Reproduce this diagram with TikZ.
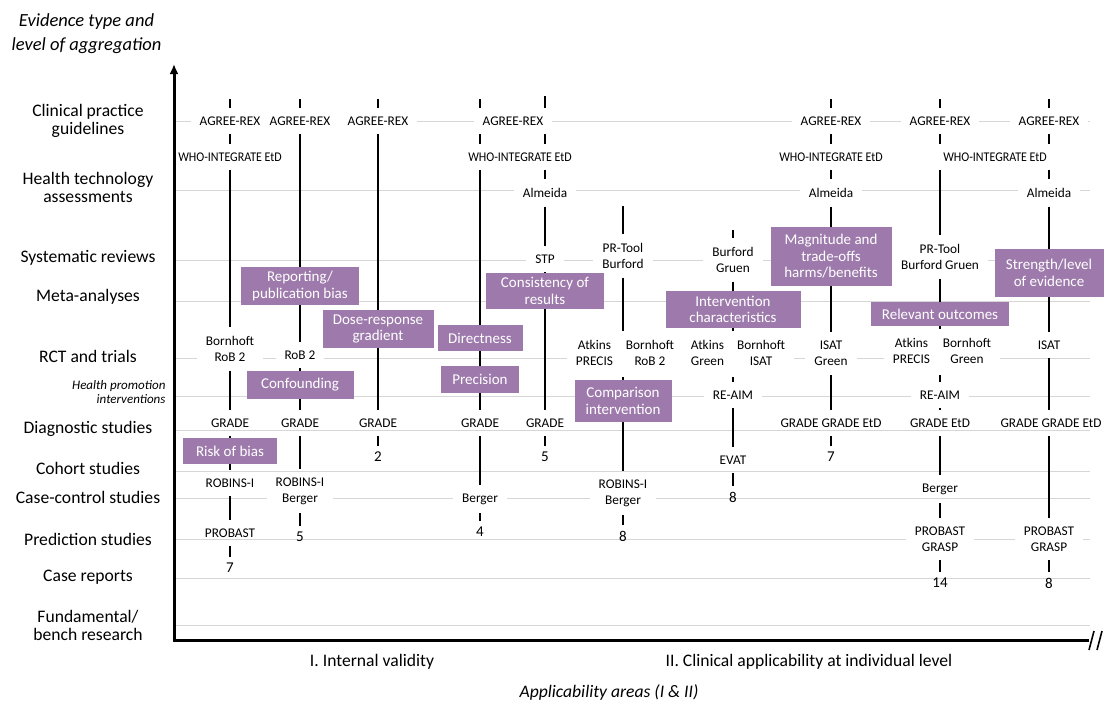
\documentclass[tikz,border=0pt]{standalone}
\usepackage{fontspec}
\setmainfont{Carlito}
\usetikzlibrary{arrows.meta}
\definecolor{critpurple}{RGB}{157,122,171}
\definecolor{gridgray}{RGB}{214,214,214}

\begin{document}
\begin{tikzpicture}[x=1pt, y=-1pt,
  tool/.style={fill=white, font=\fontsize{13.3}{16}\selectfont, align=center, inner xsep=9pt, inner ysep=2pt, outer ysep=7pt},
  crit/.style={fill=critpurple, text=white, font=\fontsize{15}{16.5}\selectfont, align=center, inner sep=3pt},
  count/.style={font=\fontsize{15}{15}\selectfont, inner sep=0pt, outer ysep=6pt},
  rowlab/.style={font=\fontsize{17.6}{18}\selectfont, align=center},
  link/.style={line width=2.2pt},
  gridln/.style={gridgray, line width=1pt},
  axis/.style={line width=3pt}]
  \useasboundingbox (0,0) rectangle (1106,704);

  % levels of evidence
  \foreach \y in {121,190,260,301,358,396,430,471,498,539,578,625}
    \draw[gridln] (176,\y) -- (1090,\y);
  \foreach \y/\lab [count=\i] in {121/{Clinical practice\\guidelines}, 187/{Health technology\\assessments},
      258/{Systematic reviews}, 297/{Meta-analyses}, 356/{RCT and trials}, 429/{Diagnostic studies},
      468/{Cohort studies}, 497/{Case-control studies}, 539/{Prediction studies}, 577/{Case reports},
      625/{Fundamental/\\bench research}}
    \node[rowlab] (row\i) at (88,\y) {\lab};
  \node[font=\itshape\fontsize{13}{13.5}\selectfont, align=right, anchor=east] (rowhp) at (169,392) {Health promotion\\interventions};
  \node[font=\itshape\fontsize{18.5}{24}\selectfont, align=center] (ytitle) at (86.5,34) {Evidence type and\\level of aggregation};
  \node[rowlab] (areaI) at (372,662) {I. Internal validity};
  \node[rowlab] (areaII) at (809,662) {II. Clinical applicability at individual level};
  \node[rowlab, font=\itshape\fontsize{17.6}{18}\selectfont] (xtitle) at (609,692) {Applicability areas (I \& II)};

  % column 1
  \coordinate (c1top) at (230,99);
  \node[tool] (a1) at (230,121) {AGREE-REX};
  \node[tool] (w1) at (230,157) {\scalebox{0.9}[1]{WHO-INTEGRATE EtD}};
  \node[tool] (b1) at (230,349) {Bornhoft\\RoB 2};
  \node[tool] (g1) at (230,423) {GRADE};
  \node[crit, minimum width=94pt, minimum height=26pt] (riskbias) at (230,451) {Risk of bias};
  \node[tool] (r1) at (230,483) {ROBINS-I};
  \node[tool] (p1) at (230,533) {PROBAST};
  \node[count] (n1) at (230,568) {7};
  \draw[link] (c1top) -- (a1) -- (w1) -- (b1) -- (g1) -- (riskbias) -- (r1) -- (p1) -- (n1);

  % column 2
  \coordinate (c2top) at (300,99);
  \node[tool] (a2) at (300,121) {AGREE-REX};
  \node[crit, minimum width=118pt, minimum height=38pt] (reporting) at (300,286) {Reporting/\\publication bias};
  \node[tool] (rob2) at (300,355) {RoB 2};
  \node[crit, minimum width=107pt, minimum height=28pt] (confounding) at (300,385) {Confounding};
  \node[tool] (g2) at (300,423) {GRADE};
  \node[tool] (r2) at (300,491) {ROBINS-I\\Berger};
  \node[count] (n2) at (300,537) {5};
  \draw[link] (c2top) -- (a2) -- (reporting) -- (rob2) -- (confounding) -- (g2) -- (r2) -- (n2);

  % column 3
  \coordinate (c3top) at (378,99);
  \node[tool] (a3) at (378,121) {AGREE-REX};
  \node[crit, minimum width=111pt, minimum height=38pt] (doseresp) at (378,329) {Dose-response\\gradient};
  \node[tool] (g3) at (378,423) {GRADE};
  \node[count] (n3) at (378,457) {2};
  \draw[link] (c3top) -- (a3) -- (doseresp) -- (g3) -- (n3);

  % columns 4 and 5 share the top labels
  \node[tool] (agree45) at (513,121) {AGREE-REX};
  \node[tool] (who45) at (520,157) {\scalebox{0.9}[1]{WHO-INTEGRATE EtD}};

  % column 4
  \coordinate (c4top) at (480,99);
  \node[crit, minimum width=85pt, minimum height=26pt] (directness) at (480,338) {Directness};
  \node[crit, minimum width=78pt, minimum height=27pt] (precision) at (480,379.5) {Precision};
  \node[tool] (g4) at (480,423) {GRADE};
  \node[tool] (be4) at (480,499) {Berger};
  \node[count] (n4) at (480,532) {4};
  \draw[link] (c4top) -- (agree45.north -| c4top);
  \draw[link] (agree45.south -| c4top) -- (who45.north -| c4top);
  \draw[link] (who45.south -| c4top) -- (directness) -- (precision) -- (g4) -- (be4) -- (n4);

  % column 5
  \coordinate (c5top) at (545,96);
  \node[tool] (al5) at (545,193) {Almeida};
  \node[tool] (stp) at (545,259) {STP};
  \node[crit, minimum width=118pt, minimum height=36pt] (consistency) at (545,291) {Consistency of\\results};
  \node[tool] (g5) at (545,423) {GRADE};
  \node[count] (n5) at (545,457) {5};
  \draw[link] (c5top) -- (agree45.north -| c5top);
  \draw[link] (agree45.south -| c5top) -- (who45.north -| c5top);
  \draw[link] (who45.south -| c5top) -- (al5) -- (stp) -- (consistency) -- (g5) -- (n5);

  % column 6
  \coordinate (c6top) at (623,206);
  \node[tool] (pr6) at (623,256) {PR-Tool\\Burford};
  \node[tool, inner ysep=0pt] (atk6) at (625,354) {\begin{tabular}{@{}c@{\hspace{13pt}}c@{}}Atkins & Bornhoft\\PRECIS & RoB 2\end{tabular}};
  \node[crit, minimum width=97pt, minimum height=42pt] (comparison) at (623,401) {Comparison\\intervention};
  \node[tool] (rb6) at (623,493) {ROBINS-I\\Berger};
  \node[count] (n6) at (623,536) {8};
  \draw[link] (c6top) -- (pr6) -- (pr6 |- atk6.north);
  \draw[link] (atk6.south -| comparison) -- (comparison) -- (rb6) -- (n6);

  % column 7
  \coordinate (c7top) at (733,230);
  \node[tool] (bg7) at (733,260) {Burford\\Gruen};
  \node[crit, minimum width=135pt, minimum height=37pt] (intervention) at (733,309.5) {Intervention\\characteristics};
  \node[tool, inner ysep=0pt] (atk7) at (738,354) {\begin{tabular}{@{}c@{\hspace{13pt}}c@{}}Atkins & Bornhoft\\Green & ISAT\end{tabular}};
  \node[tool] (reaim7) at (733,395) {RE-AIM};
  \node[tool] (evat) at (733,460) {EVAT};
  \node[count] (n7) at (733,497) {8};
  \draw[link] (c7top) -- (bg7) -- (intervention) -- (intervention |- atk7.north);
  \draw[link] (atk7.south -| reaim7) -- (reaim7) -- (evat) -- (n7);

  % column 8
  \coordinate (c8top) at (831,99);
  \node[tool] (a8) at (831,121) {AGREE-REX};
  \node[tool] (w8) at (831,157) {\scalebox{0.9}[1]{WHO-INTEGRATE EtD}};
  \node[tool] (al8) at (831,193) {Almeida};
  \node[crit, minimum width=121pt, minimum height=59pt] (magnitude) at (831,256.5) {Magnitude and\\trade-offs\\harms/benefits};
  \node[tool] (ig8) at (831,353.5) {ISAT\\Green};
  \node[tool] (gg8) at (831,423) {GRADE GRADE EtD};
  \node[count] (n8) at (831,457) {7};
  \draw[link] (c8top) -- (a8) -- (w8) -- (al8) -- (magnitude) -- (ig8) -- (gg8) -- (n8);

  % columns 9 and 10 share a label
  \node[tool] (who910) at (995,157) {\scalebox{0.9}[1]{WHO-INTEGRATE EtD}};

  % column 9
  \coordinate (c9top) at (940,99);
  \node[tool] (a9) at (940,121) {AGREE-REX};
  \node[tool] (pr9) at (940,257) {PR-Tool\\Burford Gruen};
  \node[crit, minimum width=138pt, minimum height=24pt] (relevant) at (940,314) {Relevant outcomes};
  \node[tool, inner ysep=0pt] (atk9) at (942,352) {\begin{tabular}{@{}c@{\hspace{13pt}}c@{}}Atkins & Bornhoft\\PRECIS & Green\end{tabular}};
  \node[tool] (reaim9) at (940,395) {RE-AIM};
  \node[tool] (ge9) at (940,423) {GRADE EtD};
  \node[tool] (be9) at (940,489) {Berger};
  \node[tool] (pg9) at (940,539) {PROBAST\\GRASP};
  \node[count] (n9) at (940,583) {14};
  \draw[link] (c9top) -- (a9) -- (a9 |- who910.north);
  \draw[link] (who910.south -| a9) -- (pr9) -- (relevant) -- (relevant |- atk9.north);
  \draw[link] (atk9.south -| reaim9) -- (reaim9) -- (ge9) -- (be9) -- (pg9) -- (n9);

  % column 10
  \coordinate (c10top) at (1049,99);
  \node[tool] (a10) at (1049,121) {AGREE-REX};
  \node[tool] (al10) at (1049,193) {Almeida};
  \node[crit, minimum width=109pt, minimum height=48pt] (strength) at (1049,273) {Strength/level\\of evidence};
  \node[tool] (isat10) at (1049,345) {ISAT};
  \node[tool] (gg10) at (1051,423) {GRADE GRADE EtD};
  \node[tool] (pg10) at (1049,539) {PROBAST\\GRASP};
  \node[count] (n10) at (1049,583) {8};
  \draw[link] (c10top) -- (a10) -- (a10 |- who910.north);
  \draw[link] (who910.south -| a10) -- (al10) -- (strength) -- (isat10) -- (isat10 |- gg10.north);
  \draw[link] (gg10.south -| pg10) -- (pg10) -- (n10);

  % axes on top
  \coordinate (origin) at (174,640);
  \coordinate (ytip) at (174,64);
  \coordinate (xend) at (1089,640);
  \draw[axis, -{Latex[length=10pt,width=9pt]}] ([yshift=-1.5pt]origin) -- (ytip);
  \draw[axis] ([xshift=-1.5pt]origin) -- (xend);
  \draw[line width=1.6pt] (1089,650) -- (1094,631) (1097,650) -- (1102,631);
\end{tikzpicture}
\end{document}
